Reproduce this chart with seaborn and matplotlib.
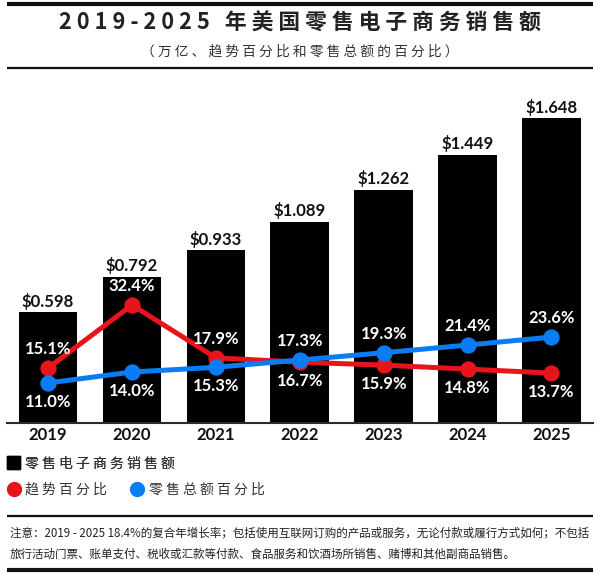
import numpy as np
import pandas as pd
import matplotlib
matplotlib.use('Agg')
import matplotlib.pyplot as plt
import seaborn as sns
from matplotlib.lines import Line2D
from matplotlib.patches import Patch

# ---------------- data ----------------
years = ['2019', '2020', '2021', '2022', '2023', '2024', '2025']
sales = [0.598, 0.792, 0.933, 1.089, 1.262, 1.449, 1.648]          # trillion USD
trend_pct = [15.1, 32.4, 17.9, 16.7, 15.9, 14.8, 13.7]              # growth %
share_pct = [11.0, 14.0, 15.3, 17.3, 19.3, 21.4, 23.6]              # share of total retail %

title = '2019-2025 年美国零售电子商务销售额'
subtitle = '（万亿、趋势百分比和零售总额的百分比）'
legend_bar = '零售电子商务销售额'
legend_trend = '趋势百分比'
legend_share = '零售总额百分比'
note_1 = '注意：2019 - 2025 18.4%的复合年增长率；包括使用互联网订购的产品或服务，无论付款或履行方式如何；不包括'
note_2 = '旅行活动门票、账单支付、税收或汇款等付款、食品服务和饮酒场所销售、赌博和其他副商品销售。'

RED = '#e8141c'
BLUE = '#0a7cf5'

sns.set_theme(style='white')
plt.rcParams['font.family'] = ['Noto Sans CJK SC', 'DejaVu Sans']
NUM_FONT = ['Lato', 'DejaVu Sans']


def spaced(s, sep=' '):
    return sep.join(list(s))


W, H = 600, 573
fig = plt.figure(figsize=(W / 100, H / 100), dpi=100)
fig.patch.set_facecolor('white')

df = pd.DataFrame({'year': years, 'sales': sales,
                   'trend': trend_pct, 'share': share_pct})

# ---------------- bars ----------------
ax = fig.add_axes([7 / W, 150 / H, 586 / W, 323 / H])
sns.barplot(data=df, x='year', y='sales', color='black', saturation=1,
            width=0.7, linewidth=0, ax=ax)
ax.set_ylim(0, 1.747)
ax.bar_label(ax.containers[0], labels=[f'${v:.3f}' for v in sales],
             padding=2, fontsize=12, fontweight='bold', family=NUM_FONT,
             color='#111111')

# ---------------- lines ----------------
ax2 = ax.twinx()
sns.pointplot(data=df, x='year', y='trend', color=RED, errorbar=None,
              markersize=9, linewidth=3.6, ax=ax2)
sns.pointplot(data=df, x='year', y='share', color=BLUE, errorbar=None,
              markersize=9, linewidth=3.6, ax=ax2)
ax2.set_ylim(0, 88.7)

for i in range(len(years)):
    for val, other in ((trend_pct[i], share_pct[i]), (share_pct[i], trend_pct[i])):
        off = 19 if val > other else -19
        ax2.annotate(f'{val:.1f}%', xy=(i, val), xytext=(0, off),
                     textcoords='offset pixels', ha='center', va='center',
                     color='white', fontsize=12, fontweight='bold',
                     family=NUM_FONT)

for a in (ax, ax2):
    a.set_xlim(-0.49, 6.495)
    a.set_xlabel('')
    a.set_ylabel('')
    a.set_yticks([])
    for s in ('top', 'left', 'right'):
        a.spines[s].set_visible(False)
ax2.spines['bottom'].set_visible(False)
ax.spines['bottom'].set_color('#2b2b2b')
ax.spines['bottom'].set_linewidth(1.5)
ax.tick_params(axis='x', length=0, pad=3)
for t in ax.get_xticklabels():
    t.set_fontfamily(NUM_FONT)
    t.set_fontweight('bold')
    t.set_fontsize(12)
    t.set_color('#111111')

# ---------------- titles ----------------
fig.text(0.5, 1 - 23 / H, spaced(title), ha='center', va='center',
         fontsize=15.7, fontweight='bold', color='#222222')
fig.text(0.5, 1 - 52 / H, spaced(subtitle), ha='center', va='center',
         fontsize=9.9, color='#333333')

# ---------------- rules ----------------
def hrule(y, lw):
    fig.add_artist(Line2D([7 / W, 593 / W], [1 - y / H, 1 - y / H],
                          color='#111111', lw=lw, solid_capstyle='butt'))

hrule(3.5, 3)
hrule(68, 1.6)
hrule(516, 1.6)
hrule(569.5, 3)

# ---------------- legend ----------------
leg1 = fig.legend(handles=[Patch(facecolor='black', edgecolor='black')],
                  labels=[spaced(legend_bar)], loc='center left',
                  bbox_to_anchor=(7 / W, 1 - 463 / H), frameon=False,
                  fontsize=10, handlelength=0.95, handleheight=1.15,
                  handletextpad=0.35, borderpad=0, borderaxespad=0)
for t in leg1.get_texts():
    t.set_color('#333333')
fig.add_artist(leg1)
h_red = Line2D([], [], marker='o', linestyle='', color=RED, markersize=10)
h_blue = Line2D([], [], marker='o', linestyle='', color=BLUE, markersize=10)
leg2 = fig.legend(handles=[h_red, h_blue],
                  labels=[spaced(legend_trend), spaced(legend_share)],
                  loc='center left', bbox_to_anchor=(7 / W, 1 - 490 / H),
                  ncol=2, frameon=False, fontsize=10, handlelength=0.95,
                  handletextpad=0.35, columnspacing=1.7, borderpad=0,
                  borderaxespad=0)
for t in leg2.get_texts():
    t.set_color('#333333')

# ---------------- footnote ----------------
fig.text(10 / W, 1 - 533 / H, note_1, ha='left', va='center',
         fontsize=8.3, color='#222222')
fig.text(10 / W, 1 - 554 / H, note_2, ha='left', va='center',
         fontsize=8.3, color='#222222')

fig.savefig('out.png', dpi=100, facecolor='white')
